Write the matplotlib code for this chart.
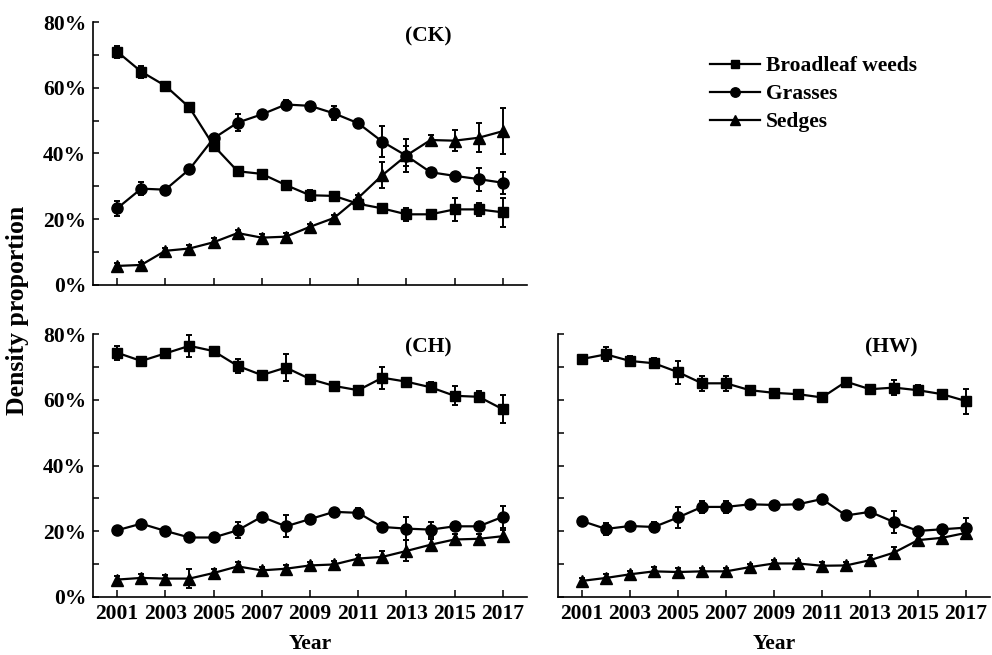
import matplotlib
matplotlib.use("Agg")
import matplotlib.pyplot as plt
from matplotlib.ticker import MultipleLocator, FuncFormatter
from matplotlib.lines import Line2D

plt.rcParams['font.family'] = ['Liberation Serif', 'DejaVu Serif']
plt.rcParams['font.weight'] = 'bold'

years = list(range(2001, 2018))
series_names = ["Broadleaf weeds", "Grasses", "Sedges"]
panel_labels = ["(CK)", "(CH)", "(HW)"]

# CK
ck_broadleaf = [71.0, 64.9, 60.6, 54.0, 42.4, 34.6, 33.8, 30.4, 27.3, 27.1, 24.7, 23.3, 21.5, 21.5, 23.0, 23.0, 22.1]
ck_broadleaf_err = [1.8, 1.8, 0.8, 0.8, 0.8, 1.0, 0.5, 0.8, 1.7, 1.2, 0.8, 0.8, 2.0, 0.8, 3.4, 1.9, 4.5]
ck_grasses = [23.3, 29.3, 29.0, 35.2, 44.6, 49.4, 51.9, 54.9, 54.5, 52.2, 49.2, 43.6, 39.3, 34.3, 33.2, 32.2, 31.1]
ck_grasses_err = [2.2, 2.0, 0.8, 0.8, 0.8, 2.6, 0.8, 1.3, 0.8, 2.1, 0.8, 4.8, 3.0, 1.2, 0.8, 3.5, 3.3]
ck_sedges = [5.8, 6.1, 10.4, 11.1, 13.0, 15.8, 14.4, 14.7, 17.7, 20.4, 26.5, 33.4, 39.4, 44.1, 43.9, 44.8, 46.8]
ck_sedges_err = [1.0, 1.0, 1.0, 1.0, 1.3, 1.0, 1.0, 1.0, 1.0, 1.0, 0.8, 4.0, 5.0, 1.6, 3.1, 4.4, 6.9]

# CH
ch_broadleaf = [74.3, 71.8, 74.1, 76.4, 74.8, 70.3, 67.5, 69.8, 66.3, 64.2, 62.9, 66.7, 65.5, 63.8, 61.2, 60.9, 57.1]
ch_broadleaf_err = [2.2, 0.8, 0.8, 3.4, 0.8, 2.2, 0.8, 4.1, 1.2, 0.8, 0.8, 3.4, 1.2, 1.5, 2.9, 1.7, 4.2]
ch_grasses = [20.3, 22.3, 20.1, 18.1, 18.1, 20.3, 24.4, 21.5, 23.7, 25.9, 25.6, 21.3, 20.8, 20.5, 21.5, 21.5, 24.4]
ch_grasses_err = [0.8, 0.8, 0.8, 0.8, 0.8, 2.4, 1.2, 3.4, 0.8, 0.8, 1.5, 1.2, 3.5, 2.2, 1.2, 1.2, 3.4]
ch_sedges = [5.3, 5.8, 5.6, 5.6, 7.3, 9.3, 8.1, 8.6, 9.6, 9.9, 11.7, 12.2, 14.0, 15.9, 17.5, 17.7, 18.5]
ch_sedges_err = [1.0, 1.2, 1.0, 2.9, 1.2, 1.2, 1.0, 1.0, 1.0, 1.0, 1.0, 1.8, 3.2, 1.8, 1.6, 1.6, 1.8]

# HW
hw_broadleaf = [72.4, 73.8, 71.8, 71.1, 68.4, 65.0, 65.0, 62.9, 62.1, 61.7, 60.7, 65.5, 63.2, 63.7, 62.9, 61.7, 59.6]
hw_broadleaf_err = [0.8, 2.1, 1.5, 1.5, 3.5, 2.2, 2.2, 0.8, 0.8, 1.0, 0.8, 0.8, 1.2, 2.2, 1.5, 1.2, 3.8]
hw_grasses = [23.1, 20.7, 21.6, 21.3, 24.2, 27.4, 27.4, 28.2, 28.0, 28.2, 29.8, 24.8, 25.9, 22.8, 20.1, 20.6, 21.1]
hw_grasses_err = [0.8, 1.7, 0.8, 1.5, 3.1, 1.8, 1.8, 0.8, 0.8, 0.8, 1.0, 0.8, 1.2, 3.4, 0.8, 1.2, 2.9]
hw_sedges = [4.9, 5.8, 6.9, 7.8, 7.6, 7.8, 7.8, 9.1, 10.2, 10.2, 9.5, 9.6, 11.2, 13.5, 17.3, 18.0, 19.5]
hw_sedges_err = [1.0, 1.2, 1.0, 1.2, 1.2, 1.0, 1.0, 1.0, 1.0, 1.0, 1.0, 1.0, 1.5, 1.8, 1.5, 2.0, 1.8]

markers = ['s', 'o', '^']
msizes = [7, 8, 8.5]

FS = 15.5
fig = plt.figure(figsize=(9.92, 6.55), dpi=100)
ax_ck = fig.add_axes([93/992, 1-285/655, 434/992, 263/655])
ax_ch = fig.add_axes([93/992, 1-597/655, 434/992, 263/655])
ax_hw = fig.add_axes([558/992, 1-597/655, 432/992, 263/655])

panels = [
    (ax_ck, [ck_broadleaf, ck_grasses, ck_sedges], [ck_broadleaf_err, ck_grasses_err, ck_sedges_err]),
    (ax_ch, [ch_broadleaf, ch_grasses, ch_sedges], [ch_broadleaf_err, ch_grasses_err, ch_sedges_err]),
    (ax_hw, [hw_broadleaf, hw_grasses, hw_sedges], [hw_broadleaf_err, hw_grasses_err, hw_sedges_err]),
]

for (ax, vals, errs), lab in zip(panels, panel_labels):
    for v, e, m, ms in zip(vals, errs, markers, msizes):
        ax.errorbar(years, v, yerr=e, color='black', marker=m, markersize=ms,
                    linewidth=1.6, elinewidth=1.4, capsize=2.5, capthick=1.4)
    ax.set_xlim(2000, 2018)
    ax.set_ylim(0, 80)
    ax.spines['top'].set_visible(False)
    ax.spines['right'].set_visible(False)
    for s in ['left', 'bottom']:
        ax.spines[s].set_linewidth(1.2)
    ax.set_xticks(years[::2])
    ax.xaxis.set_major_formatter(FuncFormatter(lambda x, p: f"{int(round(x))}"))
    ax.yaxis.set_major_locator(MultipleLocator(20))
    ax.yaxis.set_minor_locator(MultipleLocator(10))
    ax.yaxis.set_major_formatter(FuncFormatter(lambda y, p: f"{y:.0f}%"))
    ax.tick_params(axis='both', which='both', direction='in', width=1.1, labelsize=FS)
    ax.tick_params(axis='y', which='major', length=4, pad=5)
    ax.tick_params(axis='y', which='minor', length=4)
    ax.tick_params(axis='x', which='major', length=5, pad=5)
    for t in ax.get_xticklabels() + ax.get_yticklabels():
        t.set_fontweight('bold')
    ax.text(0.772, 0.945 if ax is ax_ck else 0.95, lab, transform=ax.transAxes,
            ha='center', va='center', fontsize=FS, fontweight='bold')

ax_ck.tick_params(axis='x', labelbottom=False)
ax_hw.tick_params(axis='y', labelleft=False)

for ax in (ax_ch, ax_hw):
    ax.set_xlabel("Year", fontsize=FS, fontweight='bold', labelpad=7)

fig.text(18/992, 1-310/655, "Density proportion", rotation=90, ha='center', va='center',
         fontsize=18.5, fontweight='bold')

handles = [Line2D([0], [0], color='black', marker=m, markersize=ms*0.85, linewidth=1.6)
           for m, ms in zip(markers, msizes)]
fig.legend(handles, series_names, loc='upper left', bbox_to_anchor=(710/992, 1-56/655),
           frameon=False, handlelength=2.3, handletextpad=0.3,
           labelspacing=0.37, borderpad=0, borderaxespad=0,
           prop={'weight': 'bold', 'size': FS})

fig.savefig("out.png", dpi=100)
